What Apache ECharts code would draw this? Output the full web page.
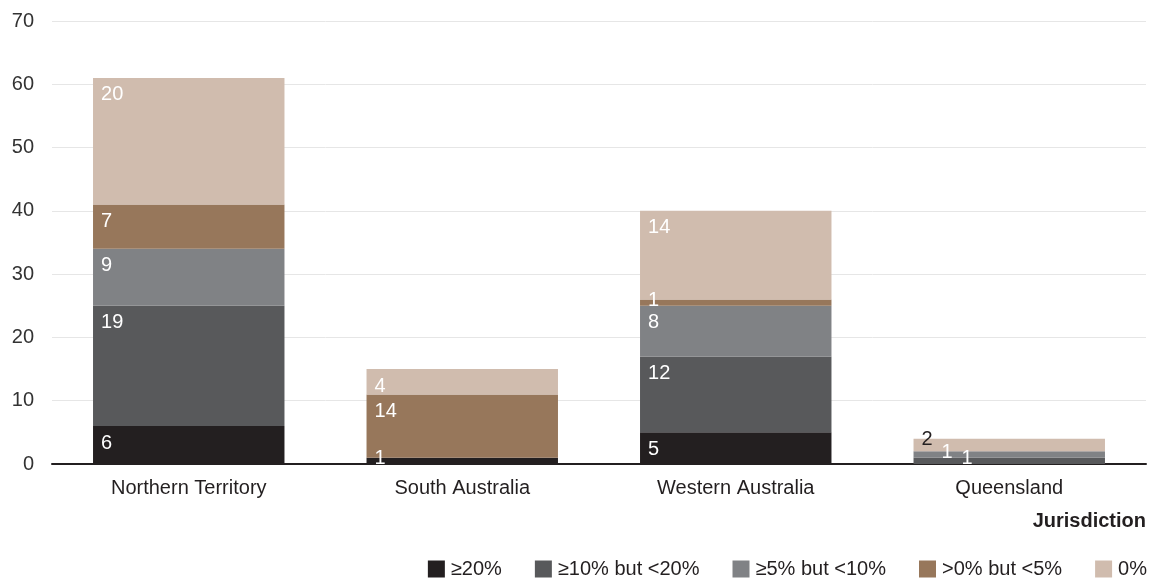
<!DOCTYPE html>
<html>
<head>
<meta charset="utf-8">
<script src="https://cdn.jsdelivr.net/npm/echarts@6/dist/echarts.min.js"></script>
<style>html,body{margin:0;padding:0;background:#fff}#c{width:1150px;height:585px}</style>
</head>
<body>
<div id="c"></div>
<script>
const categories = ['Northern Territory', 'South Australia', 'Western Australia', 'Queensland'];
const seriesNames = ['≥20%', '≥10% but <20%', '≥5% but <10%', '>0% but <5%', '0%'];
const ge20 = [6, 1, 5, 0];
const ge10 = [19, 0, 12, 1];
const ge5 = [9, 0, 8, 1];
const gt0 = [7, 10, 1, 0];
const zero = [20, 4, 14, 2];
// label texts as printed on the chart
const ge20Labels = ['6', '1', '5', ''];
const ge10Labels = ['19', '', '12', '1'];
const ge5Labels = ['9', '', '8', '1'];
const gt0Labels = ['7', '14', '1', ''];
const zeroLabels = ['20', '4', '14', '2'];
const yTicks = [0, 10, 20, 30, 40, 50, 60, 70];

const colors = ['#231f20', '#58595b', '#808285', '#97775b', '#d0bcae'];
const values = [ge20, ge10, ge5, gt0, zero];
const labels = [ge20Labels, ge10Labels, ge5Labels, gt0Labels, zeroLabels];
const FONT = '"Liberation Sans", Arial, sans-serif';

// horizontal label shift for crowded Queensland bar
const qldShift = {1: 48, 2: 28, 4: 8};

const series = seriesNames.map((name, si) => ({
  name: name,
  type: 'bar',
  stack: 'total',
  barWidth: '70%',
  itemStyle: {color: colors[si]},
  data: values[si].map((v, ci) => {
    const txt = labels[si][ci];
    const small = v <= 2;
    const dx = ci === 3 ? (qldShift[si] || 8) : 8;
    return {
      value: v,
      label: {
        show: txt !== '' && v > 0,
        formatter: () => txt,
        position: [dx, small ? -9 : 7],
        color: (ci === 3 && si === 4) ? '#231f20' : '#ffffff',
        fontSize: 20,
        fontFamily: FONT
      }
    };
  })
}));

const chart = echarts.init(document.getElementById('c'));
chart.setOption({
  animation: false,
  color: colors,
  grid: {left: 52, right: 4, top: 21, bottom: 121},
  title: {
    text: 'Jurisdiction', right: -1, top: 506,
    textStyle: {fontFamily: FONT, fontSize: 20, fontWeight: 'bold', color: '#231f20'}
  },
  legend: {
    right: -2, bottom: 1,
    itemWidth: 17, itemHeight: 17, itemGap: 33,
    icon: 'rect',
    textStyle: {fontFamily: FONT, fontSize: 20, color: '#231f20', padding: [0, 0, 0, 1]},
    data: seriesNames
  },
  xAxis: {
    type: 'category',
    data: categories,
    axisLine: {lineStyle: {color: '#231f20', width: 2}},
    axisTick: {show: false},
    axisLabel: {fontFamily: FONT, fontSize: 20, color: '#231f20', margin: 14}
  },
  yAxis: {
    type: 'value',
    min: yTicks[0], max: yTicks[yTicks.length - 1], interval: 10,
    axisLine: {show: false},
    axisTick: {show: false},
    splitLine: {lineStyle: {color: '#e6e6e6', width: 1}},
    axisLabel: {fontFamily: FONT, fontSize: 20, color: '#333333', margin: 18, padding: [5, 0, 0, 0]}
  },
  series: series
});
</script>
</body>
</html>
